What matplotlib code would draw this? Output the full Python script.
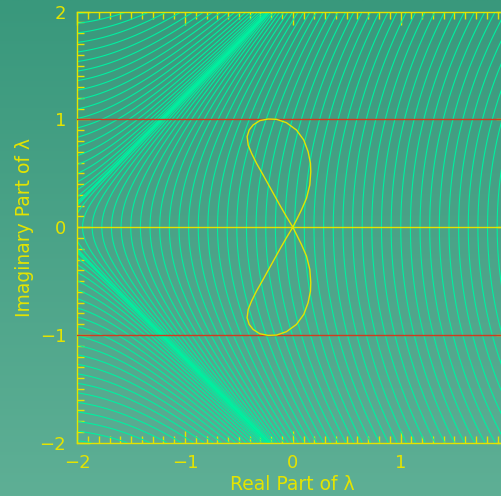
import numpy as np
import matplotlib
matplotlib.use('Agg')
import matplotlib.pyplot as plt
from matplotlib.ticker import MultipleLocator

# Figure-eight curve: upper lobe, starting at the origin
loop_re = [0.0, 0.034, 0.080, 0.127, 0.158, 0.167, 0.164, 0.142, 0.102, 0.034,
           -0.059, -0.151, -0.229, -0.306, -0.368, -0.405, -0.424, -0.414,
           -0.383, -0.337, -0.275, -0.198, -0.121, -0.059, 0.0]
loop_im = [0.0, 0.067, 0.160, 0.268, 0.392, 0.515, 0.593, 0.701, 0.809, 0.902,
           0.970, 1.001, 1.004, 0.989, 0.949, 0.902, 0.840, 0.763,
           0.686, 0.593, 0.484, 0.345, 0.206, 0.098, 0.0]

# contour family: hyperbolic near the branch point, circle-like further right
branch_re = -2.22
far_centre = 7.7      # centre of the far circles, measured from the branch point
blend_scale = 2.0
level_step = 0.0895

x_ticks = [-2, -1, 0, 1]
y_ticks = [-2, -1, 0, 1, 2]
ref_lines = [-1, 1]

yellow = '#e4e400'
green = '#00f0a0'


def shift(a, y):
    # how far the level curve through (a, 0) has moved right at height y
    hyp = np.sqrt(a ** 2 + y ** 2) - a
    r = far_centre - a
    circ = r - np.sqrt(r ** 2 - y ** 2)
    s = a ** 2 / (a ** 2 + blend_scale ** 2)
    return (1 - s) * hyp + s * circ


def field(u, y):
    g = -np.sqrt(np.clip(y ** 2 - u ** 2, 0, None))
    right = u > np.abs(y)
    uu, yy = u[right], y[right]
    lo = np.zeros_like(uu)
    hi = uu.copy()
    for _ in range(40):
        mid = 0.5 * (lo + hi)
        too_far = mid + shift(mid, yy) > uu
        hi = np.where(too_far, mid, hi)
        lo = np.where(too_far, lo, mid)
    g[right] = 0.5 * (lo + hi)
    return g


fig = plt.figure(figsize=(5.02, 4.96), dpi=100)

# background gradient over the whole figure
bg = fig.add_axes([0, 0, 1, 1], zorder=0)
top = np.array([0x39, 0x98, 0x7c]) / 255
bottom = np.array([0x5e, 0xaf, 0x95]) / 255
t = np.linspace(0, 1, 256)[:, None]
grad = top[None, :] * (1 - t) + bottom[None, :] * t
bg.imshow(grad[:, None, :].repeat(2, axis=1), aspect='auto', extent=[0, 1, 0, 1])
bg.axis('off')

ax = fig.add_axes([77.3 / 502, 53.3 / 496, 431 / 502, 431 / 496], zorder=1)
ax.set_facecolor('none')

xs = np.linspace(-2, 2, 900)
ys = np.linspace(-2, 2, 900)
X, Y = np.meshgrid(xs, ys)
G = field(X - branch_re, Y)
levels = level_step * np.arange(-40, 60)
ax.contour(X, Y, G, levels=levels, colors=green, linewidths=0.8, linestyles='solid')

for yv in ref_lines:
    ax.axhline(yv, color='#d03c1e', lw=1.0, zorder=3)
ax.axhline(0, color=yellow, lw=1.0, zorder=3)

ax.plot(loop_re, loop_im, color=yellow, lw=1.0, zorder=4)
ax.plot(loop_re, [-v for v in loop_im], color=yellow, lw=1.0, zorder=4)

ax.set_xlim(-2, 2)
ax.set_ylim(-2, 2)
ax.set_xticks(x_ticks)
ax.set_yticks(y_ticks)
ax.xaxis.set_minor_locator(MultipleLocator(0.1))
ax.yaxis.set_minor_locator(MultipleLocator(0.1))
ax.tick_params(which='both', direction='in', colors=yellow, top=True, right=True,
               labelsize=13, pad=8)
ax.tick_params(which='major', length=9, width=1)
ax.tick_params(which='minor', length=5, width=1)
for s in ax.spines.values():
    s.set_color(yellow)
    s.set_linewidth(1.0)

ax.set_xlabel('Real Part of λ', color=yellow, fontsize=13.5, labelpad=2)
ax.set_ylabel('Imaginary Part of λ', color=yellow, fontsize=13.5, labelpad=4)

fig.savefig('out.png', dpi=100)
